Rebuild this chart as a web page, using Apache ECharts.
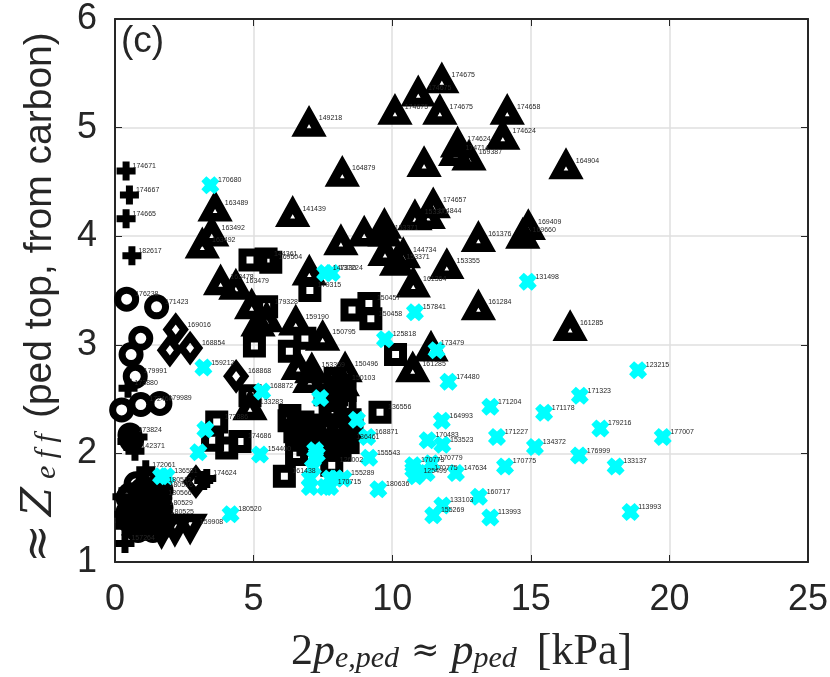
<!DOCTYPE html>
<html><head><meta charset="utf-8">
<style>html,body{margin:0;padding:0;background:#fff}#c{width:830px;height:677px}</style>
<script src="https://cdn.jsdelivr.net/npm/echarts@6/dist/echarts.min.js"></script>
</head><body><div id="c"></div>
<script>
const xTicks = [0,5,10,15,20,25];
const yTicks = [1,2,3,4,5,6];

const triangleX = [7.0,8.2,3.61,6.41,3.49,3.15,8.15,7.01,11.79,10.94,10.1,11.72,14.15,13.99,12.36,12.29,12.77,16.27,11.15,11.48,11.3,10.82,9.72,9.74,8.99,14.91,14.71,13.11,9.74,10.4,10.16,11.97,10.76,13.11,16.42,11.4,10.74,3.81,4.36,4.93,5.47,5.16,6.52,7.49,7.03,6.61,7.1,8.3,8.2,4.87];
const triangleY = [5.01,4.55,4.23,4.18,4.0,3.89,3.92,3.64,5.41,5.29,5.12,5.12,5.12,4.89,4.82,4.74,4.7,4.62,4.64,4.26,4.16,4.15,4.07,4.0,4.0,4.06,3.98,3.95,3.82,3.8,3.73,3.7,3.53,3.32,3.13,2.94,2.75,3.55,3.51,3.33,3.21,3.17,3.18,3.04,2.65,2.77,2.74,2.75,2.62,2.4];
const triangleShots = ['149218','164879','163489','141439','163492','163492','','','174675','174675','174675','174675','174658','174624','174624','174714','169387','164904','','174657','174844','153371','','153371','','169409','169660','161376','','144734','153371','153355','161364','161284','161285','173479','161285','163478','163479','','','','159190','150795','','','153359','150496','150103','133283'];

const invertedX = [2.71,2.16,1.68];
const invertedY = [1.35,1.33,1.31];
const invertedShots = ['159908','',''];

const squareX = [4.87,5.45,5.62,7.03,5.47,5.03,8.55,9.16,9.23,6.85,6.29,10.12,9.56,6.11,6.55,7.82,3.67,3.52,4.03,4.51,4.87,6.28,6.6,6.85,7.2,6.67,7.25,7.94,8.0,8.3,7.94,8.19,8.3,8.04,8.41,6.31,6.78,7.03,6.49,6.96,7.47,7.58,7.76,8.3,7.94,8.48,7.87,8.55,8.12,7.58];
const squareY = [3.78,3.79,3.76,3.5,3.35,2.99,3.32,3.38,3.24,3.06,2.94,2.91,2.38,1.79,1.99,1.89,2.29,2.12,2.05,2.11,2.53,2.3,2.26,2.17,2.22,2.12,2.08,2.69,2.54,2.45,2.35,2.26,2.12,2.2,2.1,2.35,2.29,2.26,2.2,2.08,2.12,2.26,2.4,2.58,2.51,2.31,2.08,2.22,2.03,2.54];
const squareShots = ['','144361','169504','179315','179328','','','150457','150458','','','','136556','161438','','126002','173886','','','174686','','','','','','','','','','','','','','','136461','','','','','','','','','','','','','','',''];

const diamondX = [2.19,1.98,2.71,4.37,2.92];
const diamondY = [3.14,2.95,2.97,2.71,1.74];
const diamondShots = ['169016','','168854','168868',''];

const circleX = [0.42,1.5,0.93,0.58,0.73,0.93,1.62,0.24,0.54,0.6,0.97,1.44,0.54,1.19,1.62,0.72,1.26,1.66,0.47,0.97,1.48,0.65,1.15,1.62,0.76,1.19,1.62,0.47,0.9,1.33,1.66,0.9,0.47,1.44,1.01,1.37,0.83,1.33,1.7,0.61,1.08];
const circleY = [3.42,3.35,3.06,2.91,2.71,2.45,2.46,2.4,2.17,2.12,1.66,1.68,1.62,1.57,1.59,1.52,1.48,1.5,1.46,1.41,1.39,1.34,1.31,1.31,1.72,1.74,1.71,1.59,1.59,1.62,1.66,1.48,1.39,1.52,1.34,1.29,1.29,1.43,1.41,1.43,1.52];
const circleShots = ['176238','171423','','','179991','172460','179989','','173824','','','','','','180566','','','180529','','','','','','','','','180512','','','','180516','','','','','','','','180525','',''];

const plusX = [0.4,0.52,0.4,0.61,1.11,0.25,0.32,0.36,0.36,0.72,0.43,0.83,0.47,3.31,3.2];
const plusY = [4.6,4.38,4.16,3.82,1.85,1.6,1.44,1.33,1.17,2.02,2.11,2.15,2.6,1.77,1.75];
const plusShots = ['174671','174667','174665','182617','172061','','','','157264','142371','','','173880','174624',''];

const crossX = [18.87,16.77,15.48,13.54,12.03,11.79,17.51,19.76,13.78,15.15,16.74,18.06,14.07,12.3,11.28,11.81,10.76,11.42,11.24,10.85,10.76,13.13,11.81,11.48,13.54,18.6,10.82,14.89,9.74,11.6,5.31,3.19,3.44,7.58,7.82,4.17,5.23,3.01,3.26,1.66,1.86,7.4,8.73,9.1,9.17,9.5,8.24,7.97,7.76,7.58,7.03,7.22,7.28,7.14,7.03,7.76];
const crossY = [2.765,2.53,2.375,2.43,2.66,2.3,2.23,2.15,2.15,2.06,1.98,1.88,1.88,1.82,2.12,2.08,1.89,1.91,1.82,1.79,1.85,1.6,1.52,1.43,1.41,1.46,3.3,3.58,3.05,2.95,2.57,2.79,4.47,3.66,3.66,1.44,1.99,2.01,2.22,1.79,1.79,2.51,2.31,2.15,1.96,1.67,1.77,1.77,1.77,1.69,1.69,2.03,1.99,1.87,1.77,1.69];
const crossShots = ['123215','171323','171178','171204','174480','164993','179216','177007','171227','134372','176999','133137','170775','147634','170483','153523','170773','170779','170775','125499','','160717','133103','155269','113993','113993','157841','131498','125818','','168872','159212','170680','147330','137224','180520','154400','','','','136581','','','168871','155543','180636','155289','','','','','','','','','170715'];

const INK = '#262626';
const zip = (xs, ys, shots) => xs.map((x, i) => ({ value: [x, ys[i]], shot: shots[i] }));
const labelStyle = {
  show: true, position: 'right', distance: 0,
  formatter: p => p.data.shot, fontSize: 7, color: INK,
  fontFamily: 'Liberation Sans'
};
const hollow = (name, xs, ys, shots, symbol, size, border, dx, extra) => Object.assign({
  name, type: 'scatter', data: zip(xs, ys, shots), symbol, symbolSize: size,
  itemStyle: { color: 'transparent', borderColor: '#000', borderWidth: border, opacity: 1 },
  label: labelStyle, labelLayout: { hideOverlap: false, dx: dx, dy: -5 }, emphasis: { disabled: true },
  animation: false, silent: true
}, extra || {});

const PLUS = 'path://M6 0H13V6H19V13H13V19H6V13H0V6H6Z';
const CROSS = 'path://M5 0L9 3.5L13 0L18 5L14.5 9L18 13L13 18L9 14.5L5 18L0 13L3.5 9L0 5Z';

const chart = echarts.init(document.getElementById('c'), null, { renderer: 'canvas' });
const tickLabel = { fontSize: 36, color: INK, fontFamily: 'Liberation Sans' };
chart.setOption({
  backgroundColor: '#fff',
  animation: false,
  grid: { left: 115, right: 22, top: 19, bottom: 115, containLabel: false, outerBoundsMode: 'none' },
  xAxis: [{
    type: 'value', min: 0, max: 25, interval: 5, position: 'bottom',
    axisLine: { show: true, onZero: false, lineStyle: { color: INK, width: 2 } },
    axisTick: { show: true, inside: true, length: 7, lineStyle: { color: INK, width: 1 } },
    axisLabel: Object.assign({ margin: 20, formatter: v => xTicks.includes(v) ? String(v) : '' }, tickLabel),
    splitLine: { show: true, lineStyle: { color: '#dfdfdf', width: 1.5 } },
    name: '{n|2}{i|p}{s|e,ped}{o|≈}{i|p}{s|ped}{k|[kPa]}',
    nameLocation: 'middle', nameGap: 68,
    nameTextStyle: { rich: {
      n: { fontFamily: 'Liberation Serif', fontSize: 44, color: INK },
      k: { fontFamily: 'Liberation Serif', fontSize: 44, color: INK, padding: [0, 0, 0, 20] },
      o: { fontFamily: 'DejaVu Serif', fontSize: 34, color: INK, padding: [0, 12, 0, 12] },
      i: { fontFamily: 'Liberation Serif', fontStyle: 'italic', fontSize: 44, color: INK },
      s: { fontFamily: 'Liberation Serif', fontStyle: 'italic', fontSize: 30, color: INK, padding: [14, 0, 0, 0] }
    } }
  }, {
    type: 'value', min: 0, max: 25, interval: 5, position: 'top',
    axisLine: { show: true, onZero: false, lineStyle: { color: INK, width: 2 } },
    axisTick: { show: true, inside: true, length: 7, lineStyle: { color: INK, width: 1 } },
    axisLabel: { show: false }, splitLine: { show: false }
  }],
  yAxis: [{
    type: 'value', min: 1, max: 6, interval: 1, position: 'left',
    axisLine: { show: true, onZero: false, lineStyle: { color: INK, width: 2 } },
    axisTick: { show: true, inside: true, length: 7, lineStyle: { color: INK, width: 1 } },
    axisLabel: Object.assign({ margin: 18, formatter: v => yTicks.includes(v) ? String(v) : '' }, tickLabel),
    splitLine: { show: true, lineStyle: { color: '#dfdfdf', width: 1.5 } },
    name: '{o|≈}{z|Z}{s|e f f}{t|(ped top, from carbon)}',
    nameLocation: 'middle', nameGap: 52, nameRotate: 90,
    nameTextStyle: { rich: {
      o: { fontFamily: 'DejaVu Serif', fontSize: 46, color: INK, padding: [0, 8, 0, 0] },
      z: { fontFamily: 'DejaVu Serif', fontStyle: 'italic', fontSize: 42, color: INK, padding: [0, 8, 0, 0] },
      s: { fontFamily: 'Liberation Serif', fontStyle: 'italic', fontSize: 30, color: INK, padding: [14, 0, 0, 0] },
      t: { fontFamily: 'Liberation Sans', fontSize: 39, color: INK, padding: [0, 14, 0, 16] }
    } }
  }, {
    type: 'value', min: 1, max: 6, interval: 1, position: 'right',
    axisLine: { show: true, onZero: false, lineStyle: { color: INK, width: 2 } },
    axisTick: { show: true, inside: true, length: 7, lineStyle: { color: INK, width: 1 } },
    axisLabel: { show: false }, splitLine: { show: false }
  }],
  series: [
    hollow('square', squareX, squareY, squareShots, 'rect', 15, 8, -3.5),
    hollow('diamond', diamondX, diamondY, diamondShots, 'diamond', [17, 22.5], 7.5, 0),
    hollow('circle', circleX, circleY, circleShots, 'circle', 18, 7, -4),
    hollow('plus', plusX, plusY, plusShots, PLUS, 19, 0, -3, { itemStyle: { color: '#000', opacity: 1 } }),
    hollow('triangle', triangleX, triangleY, triangleShots, 'triangle', [20, 18], 9, -5, { symbolOffset: [0, -3] }),
    hollow('inverted', invertedX, invertedY, invertedShots, 'triangle', [20, 18], 9, -5, { symbolRotate: 180, symbolOffset: [0, 3] }),
    hollow('cross', crossX, crossY, crossShots, CROSS, 18, 0, -1.3, { itemStyle: { color: '#00ffff', opacity: 1 } })
  ],
  graphic: [{
    type: 'text', left: 121, top: 23, silent: true,
    style: { text: '(c)', fontSize: 37, fontFamily: 'Liberation Sans', fill: INK }
  }]
});
</script></body></html>
